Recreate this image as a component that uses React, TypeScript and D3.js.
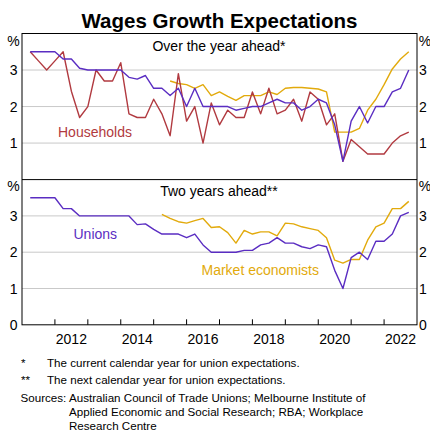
import React from "react";
import * as d3 from "d3";

const quarters = [
  "2011Q2","2011Q3","2011Q4",
  "2012Q1","2012Q2","2012Q3","2012Q4",
  "2013Q1","2013Q2","2013Q3","2013Q4",
  "2014Q1","2014Q2","2014Q3","2014Q4",
  "2015Q1","2015Q2","2015Q3","2015Q4",
  "2016Q1","2016Q2","2016Q3","2016Q4",
  "2017Q1","2017Q2","2017Q3","2017Q4",
  "2018Q1","2018Q2","2018Q3","2018Q4",
  "2019Q1","2019Q2","2019Q3","2019Q4",
  "2020Q1","2020Q2","2020Q3","2020Q4",
  "2021Q1","2021Q2","2021Q3","2021Q4",
  "2022Q1","2022Q2","2022Q3","2022Q4",
];

const unionsYearAhead = [
  3.5, 3.5, 3.5, 3.5, 3.3, 3.3, 3.05, 3.0, 3.0, 3.0, 3.0, 3.0,
  2.8, 2.75, 2.85, 2.5, 2.5, 2.3, 2.5, 2.0, 2.5, 2.0, 2.0,
  2.0, 2.0, 1.9, 1.95, 2.0, 2.0, 2.1, 2.2, 2.1, 2.1, 1.9, 2.0,
  2.2, 2.1, 1.5, 0.5, 1.6, 2.0, 1.55, 2.0, 2.0, 2.4, 2.5, 3.0,
];

const householdsYearAhead = [
  3.5, 3.25, 3.0, 3.25, 3.5, 2.42, 1.7, 2.0, 3.0, 2.7, 2.7, 3.2,
  1.8, 1.7, 1.7, 2.2, 1.8, 1.2, 2.9, 1.6, 2.0, 1.0, 2.1,
  1.5, 1.9, 1.7, 1.7, 2.4, 1.8, 2.5, 1.8, 1.9, 2.2, 1.6, 2.4,
  2.2, 1.5, 1.8, 0.5, 1.1, 0.9, 0.7, 0.7, 0.7, 1.0, 1.2, 1.3,
];

const marketYearAhead = [
  null, null, null, null, null, null, null, null, null, null, null, null,
  null, null, null, null, null, 2.7, 2.63, 2.6, 2.5, 2.6, 2.3,
  2.4, 2.28, 2.17, 2.3, 2.3, 2.3, 2.4, 2.33, 2.5, 2.52, 2.52, 2.5,
  2.48, 2.4, 1.3, 1.3, 1.3, 1.4, 1.9, 2.2, 2.6, 3.03, 3.3, 3.5,
];

const unionsTwoYears = [
  3.5, 3.5, 3.5, 3.5, 3.2, 3.2, 3.0, 3.0, 3.0, 3.0, 3.0, 3.0,
  3.0, 2.76, 2.78, 2.63, 2.5, 2.5, 2.5, 2.4, 2.5, 2.2, 2.0,
  2.0, 2.0, 2.0, 2.05, 2.05, 2.2, 2.25, 2.4, 2.25, 2.25, 2.15, 2.1,
  2.2, 2.15, 1.5, 1.0, 1.85, 2.0, 1.8, 2.3, 2.3, 2.5, 3.0, 3.1,
];

const marketTwoYears = [
  null, null, null, null, null, null, null, null, null, null, null, null,
  null, null, null, null, 3.04, 2.93, 2.84, 2.8, 2.87, 2.93, 2.68,
  2.7, 2.54, 2.25, 2.6, 2.5, 2.56, 2.56, 2.45, 2.8, 2.78, 2.7, 2.65,
  2.6, 2.4, 1.78, 1.7, 1.8, 1.8, 2.33, 2.7, 2.8, 3.2, 3.2, 3.4,
];

const yTicksTop = [1, 2, 3];
const yTicksBottom = [0, 1, 2, 3];
const yearLabels = [2012, 2014, 2016, 2018, 2020, 2022];
const yearTicks = [2012, 2013, 2014, 2015, 2016, 2017, 2018, 2019, 2020, 2021, 2022];

const PURPLE = "#5a2dc2";
const RED = "#b13a40";
const GOLD = "#e2aa0c";
const FONT = "Liberation Sans, Arial, sans-serif";

const L = 22, R = 417;
const TOP = 33.5, MID = 179.6, BOT = 324.8;

function toYear(q: string) {
  const y = +q.slice(0, 4);
  const n = +q.slice(5);
  return y + (n - 1) / 4;
}

export default function App() {
  const x = d3.scaleLinear().domain([2011, 2023]).range([L, R]);
  const yTop = d3.scaleLinear().domain([0, 4]).range([MID, TOP]);
  const yBot = d3.scaleLinear().domain([0, 4]).range([BOT, MID]);
  const dates = quarters.map(toYear);

  const mk = (vals: (number | null)[], y: d3.ScaleLinear<number, number>) =>
    d3
      .line<number | null>()
      .defined((d) => d != null)
      .x((_, i) => x(dates[i]))
      .y((d) => y(d as number))(vals) || "";

  const series = [
    { vals: marketYearAhead, y: yTop, color: GOLD },
    { vals: householdsYearAhead, y: yTop, color: RED },
    { vals: unionsYearAhead, y: yTop, color: PURPLE },
    { vals: marketTwoYears, y: yBot, color: GOLD },
    { vals: unionsTwoYears, y: yBot, color: PURPLE },
  ];

  return (
    <svg
      width={430}
      height={433}
      style={{ position: "absolute", left: 0, top: 0, background: "#fff" }}
      fontFamily={FONT}
    >
      <rect x={0} y={0} width={430} height={433} fill="#fff" />
      <text x={219.5} y={28} textAnchor="middle" fontSize={20.5} fontWeight="bold">
        Wages Growth Expectations
      </text>

      {/* gridlines */}
      {yTicksTop.map((t) => (
        <line key={"gt" + t} x1={L} x2={R} y1={yTop(t)} y2={yTop(t)} stroke="#c9c9c9" strokeWidth={1} />
      ))}
      {yTicksBottom.filter((t) => t > 0).map((t) => (
        <line key={"gb" + t} x1={L} x2={R} y1={yBot(t)} y2={yBot(t)} stroke="#c9c9c9" strokeWidth={1} />
      ))}

      {/* x ticks */}
      {yearTicks.map((t) => (
        <line key={"xt" + t} x1={x(t)} x2={x(t)} y1={BOT} y2={BOT - 5.5} stroke="#000" strokeWidth={1} />
      ))}

      {/* series */}
      {series.map((s, i) => (
        <path key={i} d={mk(s.vals, s.y)} fill="none" stroke={s.color} strokeWidth={1.4} strokeLinejoin="round" />
      ))}

      {/* frame */}
      <rect x={L} y={TOP} width={R - L} height={BOT - TOP} fill="none" stroke="#000" strokeWidth={1} />
      <line x1={L} x2={R} y1={MID} y2={MID} stroke="#000" strokeWidth={1} />

      {/* panel titles */}
      <text x={219} y={51} textAnchor="middle" fontSize={14}>Over the year ahead*</text>
      <text x={219} y={196} textAnchor="middle" fontSize={14}>Two years ahead**</text>

      {/* series labels */}
      <text x={58} y={136.5} fontSize={14} fill={RED}>Households</text>
      <text x={73.5} y={238.5} fontSize={14} fill={PURPLE}>Unions</text>
      <text x={201.5} y={275} fontSize={14} fill={GOLD}>Market economists</text>

      {/* y labels */}
      <text x={13.5} y={46} textAnchor="middle" fontSize={14}>%</text>
      <text x={425} y={46} textAnchor="middle" fontSize={14}>%</text>
      <text x={13.5} y={191} textAnchor="middle" fontSize={14}>%</text>
      <text x={425} y={191} textAnchor="middle" fontSize={14}>%</text>
      {yTicksTop.map((t) => (
        <g key={"ylt" + t}>
          <text x={17.5} y={yTop(t) + 5} textAnchor="end" fontSize={14}>{t}</text>
          <text x={419} y={yTop(t) + 5} textAnchor="start" fontSize={14}>{t}</text>
        </g>
      ))}
      {yTicksBottom.map((t) => (
        <g key={"ylb" + t}>
          <text x={17.5} y={yBot(t) + 5} textAnchor="end" fontSize={14}>{t}</text>
          <text x={419} y={yBot(t) + 5} textAnchor="start" fontSize={14}>{t}</text>
        </g>
      ))}

      {/* x labels */}
      {yearLabels.map((yr) => (
        <text key={"xl" + yr} x={x(yr + 0.5)} y={344} textAnchor="middle" fontSize={14}>{yr}</text>
      ))}

      {/* footnotes */}
      <g fontSize={11.6}>
        <text x={21} y={366.5}>*</text>
        <text x={47} y={366.5}>The current calendar year for union expectations.</text>
        <text x={21} y={384}>**</text>
        <text x={47} y={384}>The next calendar year for union expectations.</text>
        <text x={20.5} y={401.5}>Sources:</text>
        <text x={69} y={401.5}>Australian Council of Trade Unions; Melbourne Institute of</text>
        <text x={69} y={415.5}>Applied Economic and Social Research; RBA; Workplace</text>
        <text x={69} y={429.5}>Research Centre</text>
      </g>
    </svg>
  );
}
